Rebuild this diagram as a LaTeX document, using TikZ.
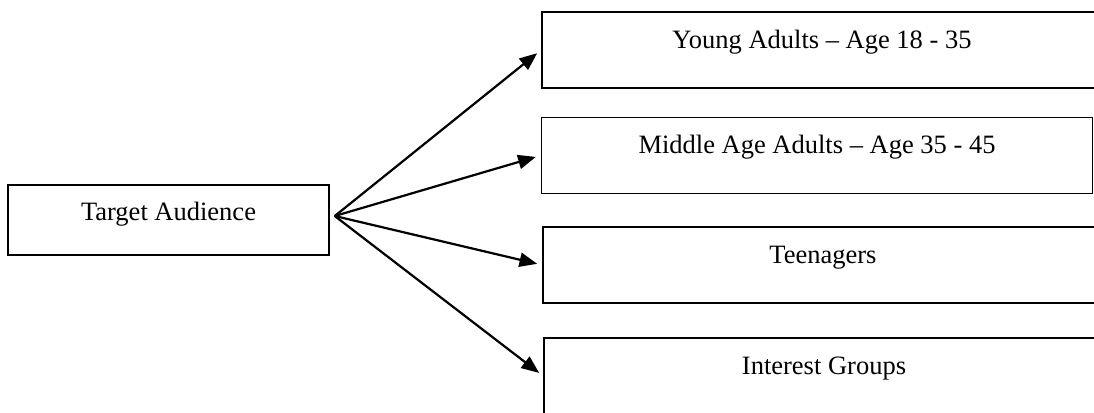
\documentclass[tikz,border=0pt,12pt]{standalone}
\usepackage{fontspec}
\setmainfont{Liberation Serif}
\usetikzlibrary{calc,arrows.meta}

\begin{document}
\begin{tikzpicture}[x=0.4528pt, y=-0.4528pt,
        group/.style={draw, line width=0.75pt, inner sep=0pt, minimum width=253.6pt,
            minimum height=34.4pt, text height=16.3pt, text depth=18.1pt},
        pointer/.style={line width=1pt, -{Triangle[length=8pt,width=6.4pt]}, shorten >=2.3pt}]
        \useasboundingbox (0,0) rectangle (1094,412);
        \clip (0,0) rectangle (1094,412);

        % Audience
        \node (Target) at (168.5,220) [draw, line width=0.75pt, inner sep=0pt, minimum width=145.3pt,
            minimum height=31.7pt, text height=15.85pt, text depth=15.85pt] {Target Audience};
        \coordinate (Fan) at ($(Target.east) + (5,-4)$);

        % Groups
        \node (Young) at (822,50) [group] {Young Adults -- Age 18 - 35};

        \node (Middle) at ($(Young) + (-5,105.5)$) [group, minimum width=249.5pt] {Middle Age Adults -- Age 35 - 45};

        \node (Teens) at ($(Young) + (1,215)$) [group] {Teenagers};

        \node (Interest) at ($(Teens) + (1,111)$) [group] {Interest Groups};

        % Connectors

        \draw [pointer] (Fan) -- (Young.west);
        \draw [pointer] (Fan) -- (Middle.west);
        \draw [pointer] (Fan) -- (Teens.west);
        \draw [pointer] (Fan) -- (Interest.west);

    \end{tikzpicture}
\end{document}
